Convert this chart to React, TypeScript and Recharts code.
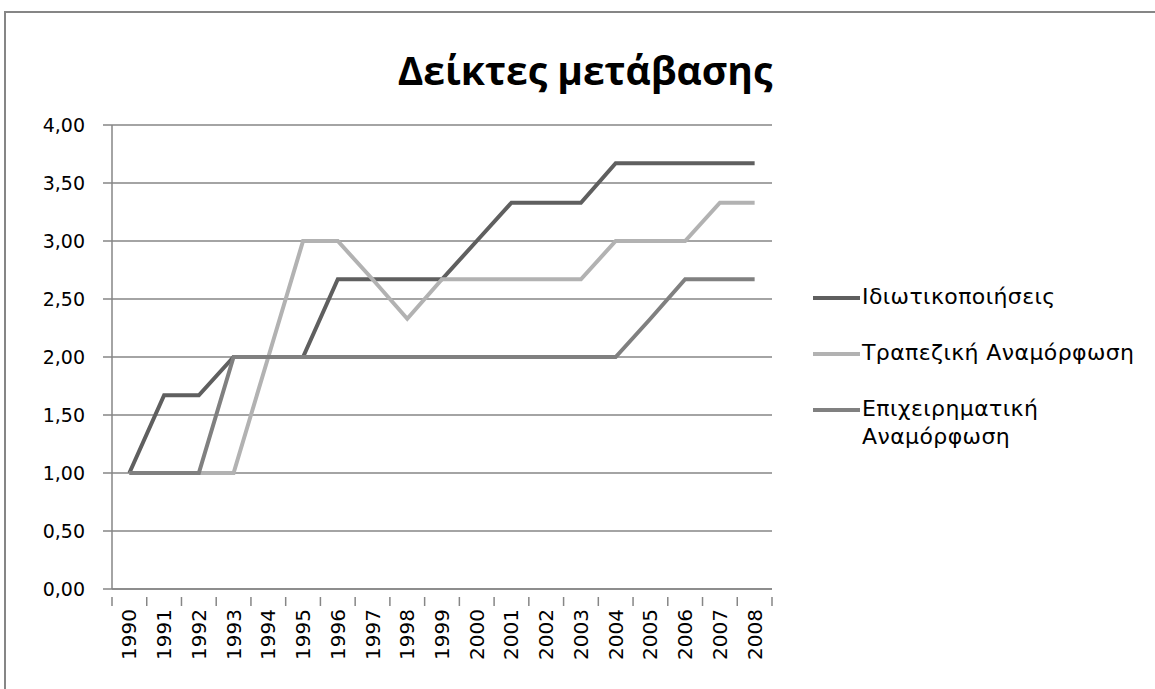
import React from 'react';
import { LineChart, Line, XAxis, YAxis, CartesianGrid, Legend } from 'recharts';

const years = [
  '1990', '1991', '1992', '1993', '1994', '1995', '1996', '1997', '1998', '1999',
  '2000', '2001', '2002', '2003', '2004', '2005', '2006', '2007', '2008',
];

const privatisation = [1.0, 1.67, 1.67, 2.0, 2.0, 2.0, 2.67, 2.67, 2.67, 2.67, 3.0, 3.33, 3.33, 3.33, 3.67, 3.67, 3.67, 3.67, 3.67];
const bankingReform = [1.0, 1.0, 1.0, 1.0, 2.0, 3.0, 3.0, 2.67, 2.33, 2.67, 2.67, 2.67, 2.67, 2.67, 3.0, 3.0, 3.0, 3.33, 3.33];
const enterpriseReform = [1.0, 1.0, 1.0, 2.0, 2.0, 2.0, 2.0, 2.0, 2.0, 2.0, 2.0, 2.0, 2.0, 2.0, 2.0, 2.33, 2.67, 2.67, 2.67];

const yTicks = [0, 0.5, 1, 1.5, 2, 2.5, 3, 3.5, 4];

const seriesNames = ['Ιδιωτικοποιήσεις', 'Τραπεζική Αναμόρφωση', 'Επιχειρηματική Αναμόρφωση'];
const seriesColors = ['#5f5f5f', '#b2b2b2', '#808080'];

const data = years.map((year, i) => ({
  year,
  s0: privatisation[i],
  s1: bankingReform[i],
  s2: enterpriseReform[i],
}));

const W = 1155;
const H = 689;
const PLOT_LEFT = 112;
const PLOT_RIGHT = 772;
const PLOT_TOP = 125;
const PLOT_BOTTOM = 589;
const GRID = '#868686';
const FONT = '"DejaVu Sans", sans-serif';

const halfBand = (PLOT_RIGHT - PLOT_LEFT) / years.length / 2;

const YearTick = (props: any) => {
  const { x, y, payload, index } = props;
  const last = index === years.length - 1;
  const ty = y + 12;
  return (
    <g>
      <line x1={x - halfBand} y1={y} x2={x - halfBand} y2={y + 9} stroke={GRID} strokeWidth={1.5} />
      {last && <line x1={x + halfBand} y1={y} x2={x + halfBand} y2={y + 9} stroke={GRID} strokeWidth={1.5} />}
      <text
        x={x}
        y={ty}
        transform={`rotate(-90, ${x}, ${ty})`}
        textAnchor="end"
        dominantBaseline="central"
        fontSize={20}
        fontFamily={FONT}
        fill="#000"
      >
        {payload.value}
      </text>
    </g>
  );
};

const LegendBox = () => (
  <div style={{ fontFamily: FONT, fontSize: 22, letterSpacing: 0.4, color: '#000' }}>
    {seriesNames.map((name, i) => (
      <div key={name} style={{ display: 'flex', alignItems: 'flex-start', marginBottom: 28 }}>
        <div style={{ width: 47, height: 4, background: seriesColors[i], marginTop: 13, flexShrink: 0 }} />
        <div style={{ width: 285, lineHeight: '28px', paddingLeft: 2 }}>{name}</div>
      </div>
    ))}
  </div>
);

export default function App() {
  return (
    <div style={{ position: 'absolute', left: 0, top: 0, width: W, height: H, overflow: 'hidden', background: '#fff' }}>
      <div
        style={{
          position: 'absolute',
          left: 4,
          top: 11,
          width: W,
          height: H,
          borderLeft: `2px solid ${GRID}`,
          borderTop: `2px solid ${GRID}`,
        }}
      />
      <div
        style={{
          position: 'absolute',
          left: 0,
          top: 43,
          width: 1170,
          textAlign: 'center',
          fontFamily: '"Open Sans", sans-serif',
          fontWeight: 700,
          fontSize: 39,
          color: '#000',
        }}
      >
        Δείκτες μετάβασης
      </div>
      <div style={{ position: 'absolute', left: 0, top: 0 }}>
        <LineChart
          width={W}
          height={H}
          data={data}
          margin={{ top: PLOT_TOP, right: W - PLOT_RIGHT, bottom: 0, left: 0 }}
        >
          <CartesianGrid horizontal vertical={false} stroke={GRID} strokeWidth={1.5} />
          <XAxis
            dataKey="year"
            scale="band"
            height={H - PLOT_BOTTOM}
            axisLine={{ stroke: GRID, strokeWidth: 1.5 }}
            tickLine={false}
            tick={<YearTick />}
            interval={0}
          />
          <YAxis
            width={PLOT_LEFT}
            domain={[0, 4]}
            ticks={yTicks}
            interval={0}
            tickFormatter={(v: number) => v.toFixed(2).replace('.', ',')}
            axisLine={{ stroke: GRID, strokeWidth: 1.5 }}
            tickLine={{ stroke: GRID, strokeWidth: 1.5 }}
            tickSize={9}
            tickMargin={18}
            tick={{ fontSize: 19, fontFamily: FONT, fill: '#000' }}
          />
          <Legend
            layout="vertical"
            align="center"
            verticalAlign="middle"
            content={<LegendBox />}
            wrapperStyle={{ left: 813, top: 283, width: 340 }}
          />
          {seriesNames.map((name, i) => (
            <Line
              key={name}
              type="linear"
              dataKey={`s${i}`}
              name={name}
              stroke={seriesColors[i]}
              strokeWidth={4}
              dot={false}
              isAnimationActive={false}
            />
          ))}
        </LineChart>
      </div>
    </div>
  );
}
